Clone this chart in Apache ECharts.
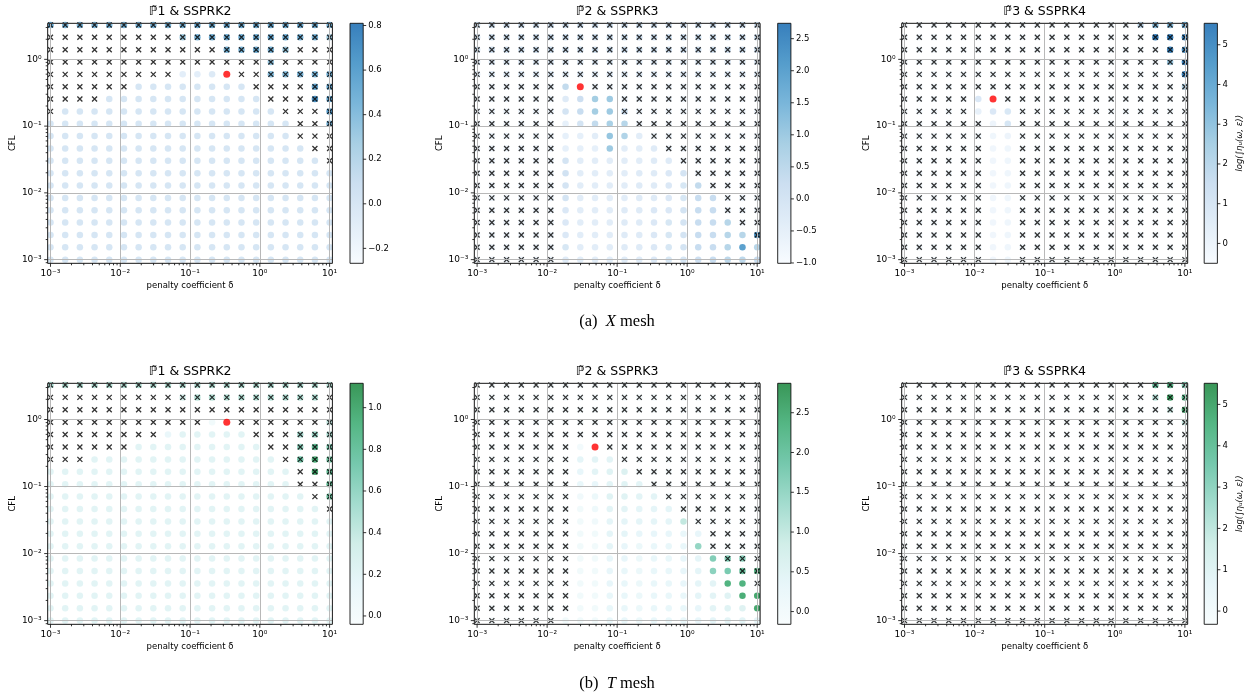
<!DOCTYPE html>
<html><head><meta charset="utf-8">
<script src="https://cdn.jsdelivr.net/npm/echarts@6/dist/echarts.min.js"></script>
<style>html,body{margin:0;padding:0;background:#fff}#chart{width:1257px;height:700px}</style>
</head><body><div id="chart"></div>
<script>
const _ = null;
// penalty coefficient grid (columns, left to right)
const delta = [0.001, 0.001624, 0.002637, 0.004281, 0.006952, 0.01129, 0.01833, 0.02976, 0.04833, 0.07848,
               0.1274, 0.2069, 0.336, 0.5456, 0.8859, 1.438, 2.336, 3.793, 6.158, 10];
// CFL grid (rows, top to bottom)
const cfl = [3.273, 2.138, 1.396, 0.912, 0.5957, 0.389, 0.2541, 0.166, 0.1084, 0.0708,
             0.04624, 0.0302, 0.01972, 0.01288, 0.008414, 0.005495, 0.003589, 0.002344, 0.001531, 0.001];
const xMajorTicks = [0.001, 0.01, 0.1, 1, 10];
const yMajorTicks = [0.001, 0.01, 0.1, 1];
const minorMultipliers = [2, 3, 4, 5, 6, 7, 8, 9];
const titles = ['\u2119\u03031 & SSPRK2', '\u2119\u03032 & SSPRK3', '\u2119\u03033 & SSPRK4',
                '\u2119\u03031 & SSPRK2', '\u2119\u03032 & SSPRK3', '\u2119\u03033 & SSPRK4'];
const subCaptions = ['(a)  {i|X} mesh', '(b)  {i|T} mesh'];
const cbarMin = [-0.267, -1.005, -0.5, -0.04, -0.16, -0.32];
const cbarMax = [0.81, 2.74, 5.54, 1.117, 2.87, 5.51];
const cbarStep = [0.2, 0.5, 1, 0.2, 0.5, 1];
const cbarTicks = [[-0.2, 0, 0.2, 0.4, 0.6, 0.8], [-1, -0.5, 0, 0.5, 1, 1.5, 2, 2.5], [0, 1, 2, 3, 4, 5],
                   [0, 0.2, 0.4, 0.6, 0.8, 1.0], [0, 0.5, 1, 1.5, 2, 2.5], [0, 1, 2, 3, 4, 5]];
const cbarName = 'log(\u222B\u03B7\u1D64(\u03C9, \u03B5))';
const blues = ['#f7fbff', '#deebf7', '#c6dbef', '#9ecae1', '#6baed6', '#4292c6', '#2171b5'];
const bugn = ['#f7fcfd', '#e5f5f9', '#ccece6', '#99d8c9', '#66c2a4', '#41ae76', '#238b45'];

// optimum (red) points [delta, CFL]
const optX1 = [0.336, 0.5957];
const optX2 = [0.02976, 0.389];
const optX3 = [0.01833, 0.2541];
const optT1 = [0.336, 0.912];
const optT2 = [0.04833, 0.389];

// values per cell, rows top->bottom, columns left->right (null = no dot)
const valsX1 = [
[0.55,0.45,0.45,0.45,0.45,0.45,0.45,0.45,0.45,0.45,0.5,0.5,0.5,0.5,0.5,0.5,0.5,0.5,0.5,0.5],
[_,_,_,_,_,_,_,_,_,0.3,0.45,0.5,0.5,0.5,0.5,0.5,0.5,0.45,0.45,0.3],
[_,_,_,_,_,_,_,_,_,_,_,_,0.45,0.45,0.5,0.45,0.3,_,_,_],
[_,_,_,_,_,_,_,_,_,_,_,_,_,_,_,0.35,_,_,_,_],
[_,_,_,_,_,_,_,_,_,-0.1,-0.1,-0.05,_,_,_,0.4,0.4,0.45,0.45,0.5],
[_,_,_,_,_,_,0,0,0,0,0,0,0,0,_,_,_,_,0.55,0.55],
[_,_,_,_,0,0,0,0,0,0,0,0,0,0,0,_,_,_,0.7,0.6],
[_,0,0,0,0,0,0,0,0,0,0,0,0,0,0,0,_,_,_,0.65],
[0,0,0,0,0,0,0,0,0,0,0,0,0,0,0,0,0,_,_,0.5],
[0,0,0,0,0,0,0,0,0,0,0,0,0,0,0,0,0,_,_,_],
[0,0,0,0,0,0,0,0,0,0,0,0,0,0,0,0,0,0,_,_],
[0,0,0,0,0,0,0,0,0,0,0,0,0,0,0,0,0,0,0,_],
[0,0,0,0,0,0,0,0,0,0,0,0,0,0,0,0,0,0,0,0],
[0,0,0,0,0,0,0,0,0,0,0,0,0,0,0,0,0,0,0,0],
[0,0,0,0,0,0,0,0,0,0,0,0,0,0,0,0,0,0,0,0],
[0,0,0,0,0,0,0,0,0,0,0,0,0,0,0,0,0,0,0,0],
[0,0,0,0,0,0,0,0,0,0,0,0,0,0,0,0,0,0,0,0],
[0,0,0,0,0,0,0,0,0,0,0,0,0,0,0,0,0,0,0,0],
[0,0,0,0,0,0,0,0,0,0,0,0,0,0,0,0,0,0,0,0],
[0,0,0,0,0,0,0,0,0,0,0,0,0,0,0,0,0,0,0,0]];
const valsX2 = [
[0.1,0.1,0.1,0.1,0.1,0.1,0.1,0.1,0.1,0.1,0.1,0.1,0.1,0.1,0.1,0.1,0.1,0.1,0.1,0.1],
[0.1,0.1,0.1,0.1,0.1,0.1,0.1,0.1,0.1,0.1,0.1,0.1,0.1,0.1,0.1,0.1,0.1,0.1,0.1,0.1],
[0.1,0.1,0.1,0.1,0.1,0.1,0.1,0.1,0.1,0.1,0.1,0.1,0.1,0.1,0.1,0.1,0.1,0.1,0.1,0.1],
[-0.3,-0.3,-0.3,-0.3,-0.3,-0.3,-0.3,-0.3,-0.3,-0.3,-0.3,-0.3,-0.3,-0.3,-0.3,-0.3,-0.3,-0.3,-0.3,-0.3],
[-0.3,-0.3,-0.3,-0.3,-0.3,-0.3,-0.3,-0.3,-0.3,-0.3,-0.3,-0.3,-0.3,-0.3,-0.3,-0.3,-0.3,-0.3,-0.3,-0.3],
[-0.7,-0.7,-0.7,-0.7,-0.7,-0.7,0.4,_,-0.7,-0.7,-0.7,-0.7,-0.7,-0.7,-0.7,-0.7,-0.7,-0.7,-0.7,-0.7],
[-0.7,-0.7,-0.7,-0.7,-0.7,-0.7,-0.3,0.2,0.9,1.0,-0.7,-0.7,-0.7,-0.7,-0.7,-0.7,-0.7,-0.7,-0.7,-0.7],
[-0.7,-0.7,-0.7,-0.7,-0.7,-0.7,0,0.3,0.9,1.0,0.2,-0.7,-0.7,-0.7,-0.7,-0.7,-0.7,-0.7,-0.7,-0.7],
[-0.7,-0.7,-0.7,-0.7,-0.7,-0.7,-0.5,0,0.4,0.8,0.6,-0.7,-0.7,-0.7,-0.7,-0.7,-0.7,-0.7,-0.7,-0.7],
[-0.7,-0.7,-0.7,-0.7,-0.7,-0.7,-0.5,-0.5,-0.4,1.1,0.7,-0.4,-0.7,-0.7,-0.7,-0.7,-0.7,-0.7,-0.7,-0.7],
[-0.7,-0.7,-0.7,-0.7,-0.7,-0.7,-0.5,-0.5,-0.5,1.0,-0.4,-0.4,-0.3,-0.7,-0.7,-0.7,-0.7,-0.7,-0.7,-0.7],
[-0.7,-0.7,-0.7,-0.7,-0.7,-0.7,0,-0.4,-0.4,-0.4,-0.4,-0.4,-0.3,-0.3,-0.7,-0.7,-0.7,-0.7,-0.7,-0.7],
[-0.7,-0.7,-0.7,-0.7,-0.7,-0.7,0.1,-0.4,-0.4,-0.4,-0.4,-0.3,-0.3,-0.2,0,-0.7,-0.7,-0.7,-0.7,-0.7],
[-0.7,-0.7,-0.7,-0.7,-0.7,-0.7,0,-0.4,-0.4,-0.4,-0.4,-0.3,-0.3,-0.2,-0.1,0.4,-0.7,-0.7,-0.7,-0.7],
[-0.7,-0.7,-0.7,-0.7,-0.7,-0.7,0,-0.4,-0.4,-0.4,-0.4,-0.3,-0.3,-0.2,-0.1,0.3,0.3,-0.7,-0.7,-0.7],
[-0.7,-0.7,-0.7,-0.7,-0.7,-0.7,-0.2,-0.4,-0.4,-0.4,-0.3,-0.3,-0.2,-0.2,0,0.3,0.3,-0.7,-0.7,-0.7],
[-0.7,-0.7,-0.7,-0.7,-0.7,-0.7,-0.2,-0.4,-0.4,-0.4,-0.3,-0.3,-0.2,-0.1,0,0.3,0.3,0.6,-0.7,-0.7],
[-0.7,-0.7,-0.7,-0.7,-0.7,-0.7,-0.2,-0.4,-0.4,-0.4,-0.3,-0.3,-0.2,-0.1,0,0.3,0.3,0.6,0.6,2.3],
[-0.7,-0.7,-0.7,-0.7,-0.7,-0.7,-0.1,-0.4,-0.4,-0.4,-0.3,-0.3,-0.2,-0.1,0,0.3,0.3,0.6,2.0,0.6],
[-0.7,-0.7,-0.7,-0.7,-0.7,-0.7,-0.3,-0.4,-0.4,-0.4,-0.3,-0.3,-0.2,-0.1,0,0.2,0.3,0.5,0.5,0.3]];
const valsX3 = [
[-0.3,-0.3,-0.3,-0.3,-0.3,-0.3,-0.3,-0.3,-0.3,-0.3,-0.3,-0.3,-0.3,-0.3,-0.3,-0.3,1.8,3.2,3.2,4.0],
[-0.3,-0.3,-0.3,-0.3,-0.3,-0.3,-0.3,-0.3,-0.3,-0.3,-0.3,-0.3,-0.3,-0.3,-0.3,-0.3,-0.3,5.5,5.5,5.3],
[-0.3,-0.3,-0.3,-0.3,-0.3,-0.3,-0.3,-0.3,-0.3,-0.3,-0.3,-0.3,-0.3,-0.3,-0.3,-0.3,-0.3,-0.3,5.3,5.0],
[-0.3,-0.3,-0.3,-0.3,-0.3,-0.3,-0.3,-0.3,-0.3,-0.3,-0.3,-0.3,-0.3,-0.3,-0.3,-0.3,-0.3,-0.3,2.8,5.3],
[-0.3,-0.3,-0.3,-0.3,-0.3,-0.3,-0.3,-0.3,-0.3,-0.3,-0.3,-0.3,-0.3,-0.3,-0.3,-0.3,-0.3,-0.3,-0.3,5.5],
[-0.3,-0.3,-0.3,-0.3,-0.3,-0.3,-0.3,-0.3,-0.3,-0.3,-0.3,-0.3,-0.3,-0.3,-0.3,-0.3,-0.3,-0.3,-0.3,2.2],
[-0.3,-0.3,-0.3,-0.3,-0.3,0.8,_,-0.3,-0.3,-0.3,-0.3,-0.3,-0.3,-0.3,-0.3,-0.3,-0.3,-0.3,-0.3,-0.3],
[-0.3,-0.3,-0.3,-0.3,-0.3,0.2,0.8,0.9,-0.3,-0.3,-0.3,-0.3,-0.3,-0.3,-0.3,-0.3,-0.3,-0.3,-0.3,-0.3],
[-0.3,-0.3,-0.3,-0.3,-0.3,-0.3,0,1.0,-0.3,-0.3,-0.3,-0.3,-0.3,-0.3,-0.3,-0.3,-0.3,-0.3,-0.3,-0.3],
[-0.3,-0.3,-0.3,-0.3,-0.3,-0.3,-0.1,0,-0.3,-0.3,-0.3,-0.3,-0.3,-0.3,-0.3,-0.3,-0.3,-0.3,-0.3,-0.3],
[-0.3,-0.3,-0.3,-0.3,-0.3,-0.3,-0.15,-0.1,-0.3,-0.3,-0.3,-0.3,-0.3,-0.3,-0.3,-0.3,-0.3,-0.3,-0.3,-0.3],
[-0.3,-0.3,-0.3,-0.3,-0.3,-0.3,-0.15,-0.1,-0.3,-0.3,-0.3,-0.3,-0.3,-0.3,-0.3,-0.3,-0.3,-0.3,-0.3,-0.3],
[-0.3,-0.3,-0.3,-0.3,-0.3,-0.3,-0.15,-0.1,-0.3,-0.3,-0.3,-0.3,-0.3,-0.3,-0.3,-0.3,-0.3,-0.3,-0.3,-0.3],
[-0.3,-0.3,-0.3,-0.3,-0.3,-0.3,-0.15,-0.1,-0.3,-0.3,-0.3,-0.3,-0.3,-0.3,-0.3,-0.3,-0.3,-0.3,-0.3,-0.3],
[-0.3,-0.3,-0.3,-0.3,-0.3,-0.3,-0.15,-0.1,-0.3,-0.3,-0.3,-0.3,-0.3,-0.3,-0.3,-0.3,-0.3,-0.3,-0.3,-0.3],
[-0.3,-0.3,-0.3,-0.3,-0.3,-0.3,-0.15,-0.1,-0.3,-0.3,-0.3,-0.3,-0.3,-0.3,-0.3,-0.3,-0.3,-0.3,-0.3,-0.3],
[-0.3,-0.3,-0.3,-0.3,-0.3,-0.3,-0.15,-0.1,-0.3,-0.3,-0.3,-0.3,-0.3,-0.3,-0.3,-0.3,-0.3,-0.3,-0.3,-0.3],
[-0.3,-0.3,-0.3,-0.3,-0.3,-0.3,-0.15,-0.1,-0.3,-0.3,-0.3,-0.3,-0.3,-0.3,-0.3,-0.3,-0.3,-0.3,-0.3,-0.3],
[-0.3,-0.3,-0.3,-0.3,-0.3,-0.3,-0.15,-0.1,-0.3,-0.3,-0.3,-0.3,-0.3,-0.3,-0.3,-0.3,-0.3,-0.3,-0.3,-0.3],
[-0.3,-0.3,-0.3,-0.3,-0.3,-0.3,-0.15,-0.1,-0.3,-0.3,-0.3,-0.3,-0.3,-0.3,-0.3,-0.3,-0.3,-0.3,-0.3,-0.3]];
const valsT1 = [
[0.5,0.45,0.45,0.45,0.45,0.45,0.45,0.45,0.45,0.45,0.45,0.45,0.45,0.45,0.45,0.45,0.45,0.45,0.45,0.45],
[_,_,_,_,_,_,_,_,_,0.3,0.45,0.45,0.45,0.45,0.45,0.45,0.45,0.45,0.45,_],
[_,_,_,_,_,_,_,_,_,_,_,_,_,_,_,_,_,_,_,_],
[_,_,_,_,_,_,_,_,_,_,_,0.05,_,_,_,_,_,_,_,0.4],
[_,_,_,_,_,_,_,_,0.12,0.2,0.2,0.2,0.2,0.2,_,_,_,0.5,0.55,0.5],
[_,_,_,_,_,_,0.2,0.2,0.2,0.2,0.2,0.2,0.2,0.2,0.2,_,_,0.6,0.85,0.7],
[_,_,_,0.2,0.2,0.2,0.2,0.2,0.2,0.2,0.2,0.2,0.2,0.2,0.2,0.2,_,0.75,0.95,0.8],
[0.2,0.2,0.2,0.2,0.2,0.2,0.2,0.2,0.2,0.2,0.2,0.2,0.2,0.2,0.2,0.2,0.2,_,1.0,0.85],
[0.2,0.2,0.2,0.2,0.2,0.2,0.2,0.2,0.2,0.2,0.2,0.2,0.2,0.2,0.2,0.2,0.2,_,_,0.85],
[0.2,0.2,0.2,0.2,0.2,0.2,0.2,0.2,0.2,0.2,0.2,0.2,0.2,0.2,0.2,0.2,0.2,0.2,_,0.8],
[0.2,0.2,0.2,0.2,0.2,0.2,0.2,0.2,0.2,0.2,0.2,0.2,0.2,0.2,0.2,0.2,0.2,0.2,0.2,_],
[0.2,0.2,0.2,0.2,0.2,0.2,0.2,0.2,0.2,0.2,0.2,0.2,0.2,0.2,0.2,0.2,0.2,0.2,0.2,0.2],
[0.2,0.2,0.2,0.2,0.2,0.2,0.2,0.2,0.2,0.2,0.2,0.2,0.2,0.2,0.2,0.2,0.2,0.2,0.2,0.2],
[0.2,0.2,0.2,0.2,0.2,0.2,0.2,0.2,0.2,0.2,0.2,0.2,0.2,0.2,0.2,0.2,0.2,0.2,0.2,0.2],
[0.2,0.2,0.2,0.2,0.2,0.2,0.2,0.2,0.2,0.2,0.2,0.2,0.2,0.2,0.2,0.2,0.2,0.2,0.2,0.2],
[0.2,0.2,0.2,0.2,0.2,0.2,0.2,0.2,0.2,0.2,0.2,0.2,0.2,0.2,0.2,0.2,0.2,0.2,0.2,0.2],
[0.2,0.2,0.2,0.2,0.2,0.2,0.2,0.2,0.2,0.2,0.2,0.2,0.2,0.2,0.2,0.2,0.2,0.2,0.2,0.2],
[0.2,0.2,0.2,0.2,0.2,0.2,0.2,0.2,0.2,0.2,0.2,0.2,0.2,0.2,0.2,0.2,0.2,0.2,0.2,0.2],
[0.2,0.2,0.2,0.2,0.2,0.2,0.2,0.2,0.2,0.2,0.2,0.2,0.2,0.2,0.2,0.2,0.2,0.2,0.2,0.2],
[0.2,0.2,0.2,0.2,0.2,0.2,0.2,0.2,0.2,0.2,0.2,0.2,0.2,0.2,0.2,0.2,0.2,0.2,0.2,0.2]];
const valsT2 = [
[-0.05,-0.05,-0.05,-0.05,-0.05,-0.05,-0.05,-0.05,-0.05,-0.05,-0.05,-0.05,-0.05,-0.05,-0.05,-0.05,-0.05,-0.05,-0.05,-0.05],
[-0.05,-0.05,-0.05,-0.05,-0.05,-0.05,-0.05,-0.05,-0.05,-0.05,-0.05,-0.05,-0.05,-0.05,-0.05,-0.05,-0.05,-0.05,-0.05,-0.05],
[-0.05,-0.05,-0.05,-0.05,-0.05,-0.05,-0.05,-0.05,-0.05,-0.05,-0.05,-0.05,-0.05,-0.05,-0.05,-0.05,-0.05,-0.05,-0.05,-0.05],
[-0.05,-0.05,-0.05,-0.05,-0.05,-0.05,-0.05,-0.05,-0.05,-0.05,-0.05,-0.05,-0.05,-0.05,-0.05,-0.05,-0.05,-0.05,-0.05,-0.05],
[-0.05,-0.05,-0.05,-0.05,-0.05,-0.05,-0.05,-0.05,-0.05,-0.05,-0.05,-0.05,-0.05,-0.05,-0.05,-0.05,-0.05,-0.05,-0.05,-0.05],
[-0.05,-0.05,-0.05,-0.05,-0.05,-0.05,-0.05,0,_,-0.05,-0.05,-0.05,-0.05,-0.05,-0.05,-0.05,-0.05,-0.05,-0.05,-0.05],
[-0.05,-0.05,-0.05,-0.05,-0.05,-0.05,-0.05,0.4,0.45,0.45,-0.05,-0.05,-0.05,-0.05,-0.05,-0.05,-0.05,-0.05,-0.05,-0.05],
[-0.05,-0.05,-0.05,-0.05,-0.05,-0.05,-0.05,0.35,0.45,0.5,0.6,-0.05,-0.05,-0.05,-0.05,-0.05,-0.05,-0.05,-0.05,-0.05],
[-0.05,-0.05,-0.05,-0.05,-0.05,-0.05,-0.05,0.3,0.35,0.45,0.5,0.45,-0.05,-0.05,-0.05,-0.05,-0.05,-0.05,-0.05,-0.05],
[-0.05,-0.05,-0.05,-0.05,-0.05,-0.05,-0.05,0.1,0.2,0.5,0.5,0.45,0.45,-0.05,-0.05,-0.05,-0.05,-0.05,-0.05,-0.05],
[-0.05,-0.05,-0.05,-0.05,-0.05,-0.05,-0.05,0.05,0.15,0.45,0.45,0.4,0.4,0.4,-0.05,-0.05,-0.05,-0.05,-0.05,-0.05],
[-0.05,-0.05,-0.05,-0.05,-0.05,-0.05,-0.05,0.05,0.1,0.4,0.4,0.4,0.4,0.4,1.0,-0.05,-0.05,-0.05,-0.05,-0.05],
[-0.05,-0.05,-0.05,-0.05,-0.05,-0.05,-0.05,0.05,0.05,0.4,0.4,0.35,0.35,0.35,0.3,0.35,-0.05,-0.05,-0.05,-0.05],
[-0.05,-0.05,-0.05,-0.05,-0.05,-0.05,-0.05,0.05,0.05,0.4,0.35,0.2,0.3,0.3,0.3,1.5,-0.05,-0.05,-0.05,-0.05],
[-0.05,-0.05,-0.05,-0.05,-0.05,-0.05,-0.05,0.05,0.05,0.35,0.35,0.2,0.3,0.3,0.35,0.4,1.7,1.7,1.6,-0.05],
[-0.05,-0.05,-0.05,-0.05,-0.05,-0.05,-0.05,0.05,0.05,0.35,0.3,0.2,0.3,0.3,0.35,0.4,1.6,1.8,2.0,2.3],
[-0.05,-0.05,-0.05,-0.05,-0.05,-0.05,-0.05,0.05,0.05,0.35,0.3,0.2,0.3,0.3,0.35,0.4,0.45,2.4,2.4,-0.05],
[-0.05,-0.05,-0.05,-0.05,-0.05,-0.05,-0.05,0.05,0.05,0.3,0.3,0.2,0.3,0.3,0.3,0.4,0.45,0.5,2.5,2.6],
[-0.05,-0.05,-0.05,-0.05,-0.05,-0.05,-0.05,0.05,0.05,0.3,0.3,0.2,0.3,0.3,0.3,0.35,0.45,0.5,0.55,2.6],
[-0.05,-0.05,-0.05,-0.05,-0.05,-0.05,0.05,0.05,0.05,0.3,0.3,0.2,0.3,0.3,0.3,0.35,0.4,0.45,0.45,0.4]];
const valsT3 = [
[-0.2,-0.2,-0.2,-0.2,-0.2,-0.2,-0.2,-0.2,-0.2,-0.2,-0.2,-0.2,-0.2,-0.2,-0.2,-0.2,-0.2,3.8,4.3,3.3],
[-0.2,-0.2,-0.2,-0.2,-0.2,-0.2,-0.2,-0.2,-0.2,-0.2,-0.2,-0.2,-0.2,-0.2,-0.2,-0.2,-0.2,2.0,5.2,4.3],
[-0.2,-0.2,-0.2,-0.2,-0.2,-0.2,-0.2,-0.2,-0.2,-0.2,-0.2,-0.2,-0.2,-0.2,-0.2,-0.2,-0.2,-0.2,1.5,5.0],
[-0.2,-0.2,-0.2,-0.2,-0.2,-0.2,-0.2,-0.2,-0.2,-0.2,-0.2,-0.2,-0.2,-0.2,-0.2,-0.2,-0.2,-0.2,-0.2,1.8],
[-0.2,-0.2,-0.2,-0.2,-0.2,-0.2,-0.2,-0.2,-0.2,-0.2,-0.2,-0.2,-0.2,-0.2,-0.2,-0.2,-0.2,-0.2,-0.2,-0.2],
[-0.2,-0.2,-0.2,-0.2,-0.2,-0.2,-0.2,-0.2,-0.2,-0.2,-0.2,-0.2,-0.2,-0.2,-0.2,-0.2,-0.2,-0.2,-0.2,-0.2],
[-0.2,-0.2,-0.2,-0.2,-0.2,-0.2,-0.2,-0.2,-0.2,-0.2,-0.2,-0.2,-0.2,-0.2,-0.2,-0.2,-0.2,-0.2,-0.2,-0.2],
[-0.2,-0.2,-0.2,-0.2,-0.2,-0.2,-0.2,-0.2,-0.2,-0.2,-0.2,-0.2,-0.2,-0.2,-0.2,-0.2,-0.2,-0.2,-0.2,-0.2],
[-0.2,-0.2,-0.2,-0.2,-0.2,-0.2,-0.2,-0.2,-0.2,-0.2,-0.2,-0.2,-0.2,-0.2,-0.2,-0.2,-0.2,-0.2,-0.2,-0.2],
[-0.2,-0.2,-0.2,-0.2,-0.2,-0.2,-0.2,-0.2,-0.2,-0.2,-0.2,-0.2,-0.2,-0.2,-0.2,-0.2,-0.2,-0.2,-0.2,-0.2],
[-0.2,-0.2,-0.2,-0.2,-0.2,-0.2,-0.2,-0.2,-0.2,-0.2,-0.2,-0.2,-0.2,-0.2,-0.2,-0.2,-0.2,-0.2,-0.2,-0.2],
[-0.2,-0.2,-0.2,-0.2,-0.2,-0.2,-0.2,-0.2,-0.2,-0.2,-0.2,-0.2,-0.2,-0.2,-0.2,-0.2,-0.2,-0.2,-0.2,-0.2],
[-0.2,-0.2,-0.2,-0.2,-0.2,-0.2,-0.2,-0.2,-0.2,-0.2,-0.2,-0.2,-0.2,-0.2,-0.2,-0.2,-0.2,-0.2,-0.2,-0.2],
[-0.2,-0.2,-0.2,-0.2,-0.2,-0.2,-0.2,-0.2,-0.2,-0.2,-0.2,-0.2,-0.2,-0.2,-0.2,-0.2,-0.2,-0.2,-0.2,-0.2],
[-0.2,-0.2,-0.2,-0.2,-0.2,-0.2,-0.2,-0.2,-0.2,-0.2,-0.2,-0.2,-0.2,-0.2,-0.2,-0.2,-0.2,-0.2,-0.2,-0.2],
[-0.2,-0.2,-0.2,-0.2,-0.2,-0.2,-0.2,-0.2,-0.2,-0.2,-0.2,-0.2,-0.2,-0.2,-0.2,-0.2,-0.2,-0.2,-0.2,-0.2],
[-0.2,-0.2,-0.2,-0.2,-0.2,-0.2,-0.2,-0.2,-0.2,-0.2,-0.2,-0.2,-0.2,-0.2,-0.2,-0.2,-0.2,-0.2,-0.2,-0.2],
[-0.2,-0.2,-0.2,-0.2,-0.2,-0.2,-0.2,-0.2,-0.2,-0.2,-0.2,-0.2,-0.2,-0.2,-0.2,-0.2,-0.2,-0.2,-0.2,-0.2],
[-0.2,-0.2,-0.2,-0.2,-0.2,-0.2,-0.2,-0.2,-0.2,-0.2,-0.2,-0.2,-0.2,-0.2,-0.2,-0.2,-0.2,-0.2,-0.2,-0.2],
[-0.2,-0.2,-0.2,-0.2,-0.2,-0.2,-0.2,-0.2,-0.2,-0.2,-0.2,-0.2,-0.2,-0.2,-0.2,-0.2,-0.2,-0.2,-0.2,-0.2]];

// unstable cells ('x'), rows top->bottom
const unstableX1 = ['xxxxxxxxxxxxxxxxxxxx','xxxxxxxxxxxxxxxxxxxx','xxxxxxxxxxxxxxxxxxxx','xxxxxxxxxxxxxxxxxxxx',
 'xxxxxxxxx....xxxxxxx','xxxxxx........xxxxxx','xxxx...........xxxxx','x...............xxxx',
 '.................xxx','.................xxx','..................xx','...................x',
 '....................','....................','....................','....................',
 '....................','....................','....................','....................'];
const unstableX2 = ['xxxxxxxxxxxxxxxxxxxx','xxxxxxxxxxxxxxxxxxxx','xxxxxxxxxxxxxxxxxxxx','xxxxxxxxxxxxxxxxxxxx',
 'xxxxxxxxxxxxxxxxxxxx','xxxxxx..xxxxxxxxxxxx','xxxxxx....xxxxxxxxxx','xxxxxx....xxxxxxxxxx',
 'xxxxxx.....xxxxxxxxx','xxxxxx......xxxxxxxx','xxxxxx.......xxxxxxx','xxxxxx........xxxxxx',
 'xxxxxx.........xxxxx','xxxxxx..........xxxx','xxxxxx...........xxx','xxxxxx...........xxx',
 'xxxxxx............xx','xxxxxx.............x','xxxxxx..............','xxxxxx..............'];
const unstableX3 = ['xxxxxxxxxxxxxxxxxxxx','xxxxxxxxxxxxxxxxxxxx','xxxxxxxxxxxxxxxxxxxx','xxxxxxxxxxxxxxxxxxxx',
 'xxxxxxxxxxxxxxxxxxxx','xxxxxxxxxxxxxxxxxxxx','xxxxx..xxxxxxxxxxxxx','xxxxx...xxxxxxxxxxxx',
 'xxxxxx..xxxxxxxxxxxx','xxxxxx..xxxxxxxxxxxx','xxxxxx..xxxxxxxxxxxx','xxxxxx..xxxxxxxxxxxx',
 'xxxxxx..xxxxxxxxxxxx','xxxxxx..xxxxxxxxxxxx','xxxxxx..xxxxxxxxxxxx','xxxxxx..xxxxxxxxxxxx',
 'xxxxxx..xxxxxxxxxxxx','xxxxxx..xxxxxxxxxxxx','xxxxxx..xxxxxxxxxxxx','xxxxxx..xxxxxxxxxxxx'];
const unstableT1 = ['xxxxxxxxxxxxxxxxxxxx','xxxxxxxxxxxxxxxxxxxx','xxxxxxxxxxxxxxxxxxxx','xxxxxxxxxxx..xxxxxxx',
 'xxxxxxxx......xxxxxx','xxxxxx.........xxxxx','xxx.............xxxx','.................xxx',
 '.................xxx','..................xx','...................x','....................',
 '....................','....................','....................','....................',
 '....................','....................','....................','....................'];
const unstableT2 = ['xxxxxxxxxxxxxxxxxxxx','xxxxxxxxxxxxxxxxxxxx','xxxxxxxxxxxxxxxxxxxx','xxxxxxxxxxxxxxxxxxxx',
 'xxxxxxxxxxxxxxxxxxxx','xxxxxxx..xxxxxxxxxxx','xxxxxxx...xxxxxxxxxx','xxxxxxx....xxxxxxxxx',
 'xxxxxxx.....xxxxxxxx','xxxxxxx......xxxxxxx','xxxxxxx.......xxxxxx','xxxxxxx........xxxxx',
 'xxxxxxx.........xxxx','xxxxxxx.........xxxx','xxxxxxx..........xxx','xxxxxxx...........xx',
 'xxxxxxx............x','xxxxxxx.............','xxxxxxx.............','xxxxxx..............'];
const unstableT3 = ['xxxxxxxxxxxxxxxxxxxx','xxxxxxxxxxxxxxxxxxxx','xxxxxxxxxxxxxxxxxxxx','xxxxxxxxxxxxxxxxxxxx',
 'xxxxxxxxxxxxxxxxxxxx','xxxxxxxxxxxxxxxxxxxx','xxxxxxxxxxxxxxxxxxxx','xxxxxxxxxxxxxxxxxxxx',
 'xxxxxxxxxxxxxxxxxxxx','xxxxxxxxxxxxxxxxxxxx','xxxxxxxxxxxxxxxxxxxx','xxxxxxxxxxxxxxxxxxxx',
 'xxxxxxxxxxxxxxxxxxxx','xxxxxxxxxxxxxxxxxxxx','xxxxxxxxxxxxxxxxxxxx','xxxxxxxxxxxxxxxxxxxx',
 'xxxxxxxxxxxxxxxxxxxx','xxxxxxxxxxxxxxxxxxxx','xxxxxxxxxxxxxxxxxxxx','xxxxxxxxxxxxxxxxxxxx'];

// ---------- build ----------
const panelVals = [valsX1, valsX2, valsX3, valsT1, valsT2, valsT3];
const panelMasks = [unstableX1, unstableX2, unstableX3, unstableT1, unstableT2, unstableT3];
const panelOpt = [optX1, optX2, optX3, optT1, optT2, null];
const cmaps = [blues, bugn];

const plotLeft = [47.7, 474.3, 901.7], plotWidth = [284.7, 285.7, 286];
const cbarLeft = [350, 777.7, 1204.2], cbarW = 13.2;
const rowTop = [23.3, 383.3], rowHeight = [240, 241];
const X_MIN = Math.pow(10, -3.04), X_MAX = Math.pow(10, 1.04);
const Y_MIN = Math.pow(10, -3.055), Y_MAX = Math.pow(10, 0.54);
const FONT = 'DejaVu Sans';
const SUP = {'-': '\u207B', '0': '\u2070', '1': '\u00B9', '2': '\u00B2', '3': '\u00B3', '4': '\u2074',
             '5': '\u2075', '6': '\u2076', '7': '\u2077', '8': '\u2078', '9': '\u2079'};
function pow10Label(v) {
  const e = Math.round(Math.log10(v));
  return '10' + String(e).split('').map(ch => SUP[ch]).join('');
}
function minorTicks() {
  const out = [];
  [1e-4, 1e-3, 1e-2, 1e-1, 1, 10].forEach(d => minorMultipliers.forEach(m => out.push(m * d)));
  return out;
}
const MINOR = minorTicks();

function plotFrame(params, api) {
  const cs = params.coordSys;
  const x0 = cs.x, y0 = cs.y, x1 = cs.x + cs.width, y1 = cs.y + cs.height;
  const kids = [];
  const seg = (ax, ay, bx, by) => kids.push({type: 'line', shape: {x1: ax, y1: ay, x2: bx, y2: by},
    style: {stroke: '#000', lineWidth: 0.8}});
  xMajorTicks.forEach(v => { const px = api.coord([v, cfl[19]])[0]; seg(px, y1, px, y1 + 3.5); });
  MINOR.forEach(v => { if (v > X_MIN && v < X_MAX) { const px = api.coord([v, cfl[19]])[0]; seg(px, y1, px, y1 + 2); } });
  yMajorTicks.forEach(v => { const py = api.coord([delta[0], v])[1]; seg(x0, py, x0 - 3.5, py); });
  MINOR.forEach(v => { if (v > Y_MIN && v < Y_MAX) { const py = api.coord([delta[0], v])[1]; seg(x0, py, x0 - 2, py); } });
  kids.push({type: 'rect', shape: {x: x0, y: y0, width: cs.width, height: cs.height},
    style: {fill: 'none', stroke: '#111', lineWidth: 0.9}});
  return {type: 'group', children: kids};
}
function cbarRender(p) {
  const cmap = cmaps[Math.floor(p / 3)];
  return function (params, api) {
    const cs = params.coordSys;
    const x0 = cs.x, y0 = cs.y, x1 = cs.x + cs.width;
    const stops = cmap.map((c, i) => ({offset: i / (cmap.length - 1), color: c}));
    const kids = [{type: 'rect', shape: {x: x0, y: y0, width: cs.width, height: cs.height},
      style: {fill: new echarts.graphic.LinearGradient(0, 1, 0, 0, stops), opacity: 0.9}}];
    cbarTicks[p].forEach(v => {
      const py = api.coord([1, v])[1];
      kids.push({type: 'line', shape: {x1: x1, y1: py, x2: x1 + 3, y2: py}, style: {stroke: '#000', lineWidth: 0.8}});
    });
    kids.push({type: 'rect', shape: {x: x0, y: y0, width: cs.width, height: cs.height},
      style: {fill: 'none', stroke: '#111', lineWidth: 0.9}});
    return {type: 'group', children: kids};
  };
}

const grids = [], xAxes = [], yAxes = [], series = [], visualMaps = [], titleComps = [];
const labelStyle = {fontFamily: FONT, fontSize: 8.5, color: '#000'};
const tickStyle = {fontFamily: FONT, fontSize: 9, color: '#000'};
for (let p = 0; p < 6; p++) {
  const col = p % 3, row = Math.floor(p / 3);
  const gi = grids.length;
  grids.push({left: plotLeft[col], top: rowTop[row], width: plotWidth[col], height: rowHeight[row]});
  xAxes.push({gridIndex: gi, type: 'log', logBase: 10, min: X_MIN, max: X_MAX, z: 3,
    axisLine: {show: false}, axisTick: {show: false},
    splitLine: {show: true, lineStyle: {color: '#b8b8b8', width: 1}},
    axisLabel: Object.assign({formatter: pow10Label, showMinLabel: false, showMaxLabel: false, margin: 5.5}, tickStyle),
    name: 'penalty coefficient \u03B4', nameLocation: 'middle', nameGap: 18, nameTextStyle: labelStyle});
  yAxes.push({gridIndex: gi, type: 'log', logBase: 10, min: Y_MIN, max: Y_MAX, z: 3,
    axisLine: {show: false}, axisTick: {show: false},
    splitLine: {show: true, lineStyle: {color: '#b8b8b8', width: 1}},
    axisLabel: Object.assign({formatter: pow10Label, showMinLabel: false, showMaxLabel: false, margin: 6}, tickStyle),
    name: 'CFL', nameLocation: 'middle', nameGap: 30, nameTextStyle: labelStyle});

  const pts = [], crosses = [];
  panelVals[p].forEach((rowArr, r) => rowArr.forEach((v, c) => { if (v !== null) pts.push([delta[c], cfl[r], v]); }));
  panelMasks[p].forEach((s, r) => { for (let c = 0; c < 20; c++) if (s[c] === 'x') crosses.push([delta[c], cfl[r]]); });

  series.push({type: 'scatter', xAxisIndex: gi, yAxisIndex: gi, data: pts, symbolSize: 6.5, z: 1,
    itemStyle: {opacity: 0.9}, silent: true});
  visualMaps.push({type: 'continuous', show: false, seriesIndex: series.length - 1, dimension: 2,
    min: cbarMin[p], max: cbarMax[p], inRange: {color: cmaps[row]}});
  series.push({type: 'scatter', xAxisIndex: gi, yAxisIndex: gi, data: crosses, z: 2, silent: true,
    symbol: 'path://M0,0L10,10M10,0L0,10', symbolSize: 5,
    itemStyle: {color: 'none', borderColor: '#000', borderWidth: 1.3}});
  if (panelOpt[p]) series.push({type: 'scatter', xAxisIndex: gi, yAxisIndex: gi, data: [panelOpt[p]],
    symbolSize: 7, z: 4, silent: true, itemStyle: {color: '#ff0000'}});
  series.push({type: 'custom', xAxisIndex: gi, yAxisIndex: gi, data: [[1, 0.01]], z: 5, silent: true,
    renderItem: plotFrame});

  // colorbar
  const cg = grids.length;
  grids.push({left: cbarLeft[col], top: rowTop[row], width: cbarW, height: rowHeight[row]});
  xAxes.push({gridIndex: cg, type: 'value', min: 0, max: 1, show: false});
  yAxes.push({gridIndex: cg, type: 'value', position: 'right', min: cbarMin[p], max: cbarMax[p],
    minInterval: cbarStep[p], maxInterval: cbarStep[p],
    axisLine: {show: false}, axisTick: {show: false}, splitLine: {show: false},
    axisLabel: Object.assign({showMinLabel: false, showMaxLabel: false, margin: 5,
      formatter: v => (cbarStep[p] >= 1 ? String(Math.round(v)) : v.toFixed(1)).replace('-', '\u2212')}, labelStyle),
    name: col === 2 ? cbarName : '', nameLocation: 'middle', nameGap: 18,
    nameTextStyle: Object.assign({}, labelStyle, {fontStyle: 'italic'})});
  series.push({type: 'custom', xAxisIndex: cg, yAxisIndex: cg, data: [[0.5, (cbarMin[p] + cbarMax[p]) / 2]],
    z: 1, silent: true, renderItem: cbarRender(p)});

  titleComps.push({text: titles[p], left: plotLeft[col] + plotWidth[col] / 2, top: row === 0 ? 5.5 : 365.5,
    textAlign: 'center', padding: 0,
    textStyle: {fontFamily: FONT, fontSize: 12.5, fontWeight: 'normal', color: '#000'}});
}
[0, 1].forEach(r => titleComps.push({text: subCaptions[r], left: 617, top: r === 0 ? 313 : 675, textAlign: 'center', padding: 0,
  textStyle: {fontFamily: 'Liberation Serif', fontSize: 16.5, fontWeight: 'normal', color: '#000',
    rich: {i: {fontFamily: 'Liberation Serif', fontSize: 16.5, fontStyle: 'italic', color: '#000'}}}}));

const chart = echarts.init(document.getElementById('chart'), null, {renderer: 'canvas'});
chart.setOption({
  animation: false, backgroundColor: '#fff',
  title: titleComps, grid: grids, xAxis: xAxes, yAxis: yAxes, visualMap: visualMaps, series: series
});
</script></body></html>
